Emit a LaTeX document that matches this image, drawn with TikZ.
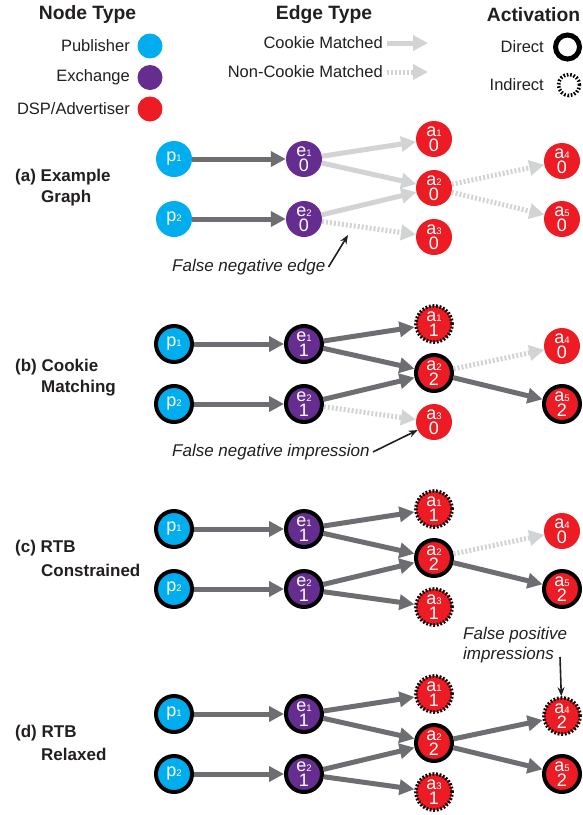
\documentclass[tikz,border=0pt]{standalone}
\usepackage{fontspec}
\setmainfont{Liberation Sans}
\usetikzlibrary{arrows.meta}
\definecolor{pub}{HTML}{00AEEF}
\definecolor{exch}{HTML}{662D91}
\definecolor{dsp}{HTML}{ED1C24}
\definecolor{dgray}{HTML}{6D6E71}
\definecolor{lgray}{HTML}{D1D3D4}
\definecolor{txt}{HTML}{231F20}
\newcommand\nsub[1]{{\fontsize{9.5}{9.5}\selectfont #1}}
\tikzset{
  nd/.style={circle, minimum size=36pt, inner sep=0pt, text=white, align=center,
    font=\fontsize{18}{15.5}\selectfont},
  pubn/.style={nd, fill=pub},
  exn/.style={nd, fill=exch},
  dspn/.style={nd, fill=dsp},
  direct/.style={draw=black, line width=4pt},
  indirect/.style={draw=black, line width=3.6pt, dash pattern=on 1.7pt off 1.8pt},
  strong/.style={draw=dgray, line width=5pt, -{Triangle[length=15pt,width=15pt]}},
  weak/.style={draw=lgray, line width=5pt, -{Triangle[length=15pt,width=15pt]}},
  weakdot/.style={weak, dash pattern=on 2pt off 2pt},
  hdr/.style={text=txt, font=\fontsize{19.3}{22}\selectfont\bfseries, inner sep=0pt},
  leg/.style={text=txt, font=\fontsize{16.5}{19}\selectfont, inner sep=0pt},
  plab/.style={text=txt, font=\fontsize{17}{20}\selectfont\bfseries, inner sep=0pt, anchor=west},
  note/.style={text=txt, font=\fontsize{17}{20}\selectfont\itshape, inner sep=3pt, align=left},
  annot/.style={draw=txt, line width=1.6pt, -{Stealth[length=9pt,width=7pt]}},
  legdot/.style={circle, inner sep=0pt, minimum size=25pt},
}
\begin{document}
\begin{tikzpicture}[x=1pt,y=1pt]
\useasboundingbox (0,0) rectangle (582,-815);
\fill[white] (0,0) rectangle (582,-815);

% ---------- legend ----------
\node[hdr] (hnode) at (87.5,-15) {Node Type};
\node[hdr] (hedge) at (324,-15) {Edge Type};
\node[hdr] (hact) at (533.5,-15) {Activation};

\node[leg, anchor=east] (lpub) at (130,-46) {Publisher};
\node[leg, anchor=east] (lexc) at (130,-77.5) {Exchange};
\node[leg, anchor=east] (ldsp) at (130,-109) {DSP/Advertiser};
\node[legdot, fill=pub] (cpub) at (150,-46) {};
\node[legdot, fill=exch] (cexc) at (150,-77.5) {};
\node[legdot, fill=dsp] (cdsp) at (150,-109) {};

\node[leg, anchor=east] (lcm) at (383,-43) {Cookie Matched};
\node[leg, anchor=east] (lncm) at (383,-72) {Non-Cookie Matched};
\coordinate (cmA) at (387,-43); \coordinate (cmB) at (428,-43);
\coordinate (ncmA) at (387,-72); \coordinate (ncmB) at (428,-72);
\draw[weak] (cmA) -- (cmB);
\draw[weakdot] (ncmA) -- (ncmB);

\node[leg, anchor=east] (ldir) at (544,-47) {Direct};
\node[leg, anchor=east] (lind) at (544,-85) {Indirect};
\node[circle, inner sep=0pt, minimum size=24pt, draw=black, line width=5pt] (cdir) at (567.5,-47) {};
\node[circle, inner sep=0pt, minimum size=21pt, draw=black, line width=3.6pt, dash pattern=on 1.6pt off 1.8pt] (cind) at (569,-85) {};

% ---------- panel labels ----------
\node[plab] (la1) at (15,-177) {(a) Example};
\node[plab] (la2) at (41,-198) {Graph};
\node[plab] (lb1) at (15,-367) {(b) Cookie};
\node[plab] (lb2) at (41,-388) {Matching};
\node[plab] (lc1) at (15,-548) {(c) RTB};
\node[plab] (lc2) at (41,-570) {Constrained};
\node[plab] (ld1) at (15,-733) {(d) RTB};
\node[plab] (ld2) at (41,-754) {Relaxed};

% ---------- panel (a) ----------
\node[pubn] (pa1) at (174,-159) {p\nsub{1}};
\node[pubn] (pa2) at (174,-219) {p\nsub{2}};
\node[exn] (ea1) at (304,-159) {e\nsub{1}\\0};
\node[exn] (ea2) at (304,-219) {e\nsub{2}\\0};
\node[dspn] (aa1) at (434,-139) {a\nsub{1}\\0};
\node[dspn] (aa2) at (434,-188) {a\nsub{2}\\0};
\node[dspn] (aa3) at (434,-237) {a\nsub{3}\\0};
\node[dspn] (aa4) at (562,-161) {a\nsub{4}\\0};
\node[dspn] (aa5) at (562,-219) {a\nsub{5}\\0};
\draw[strong] (pa1) -- (ea1);
\draw[strong] (pa2) -- (ea2);
\draw[weak] (ea1) -- (aa1);
\draw[weak] (ea1) -- (aa2);
\draw[weak] (ea2) -- (aa2);
\draw[weakdot] (ea2) -- (aa3);
\draw[weakdot] (aa2) -- (aa4);
\draw[weakdot] (aa2) -- (aa5);
\node[note, anchor=west] (fne) at (169,-267) {False negative edge};
\coordinate (fnetip) at (348,-235);
\draw[annot] (fne.east) -- (fnetip);

% ---------- panel (b) ----------
\node[pubn, direct] (pb1) at (174,-344) {p\nsub{1}};
\node[pubn, direct] (pb2) at (174,-404) {p\nsub{2}};
\node[exn, direct] (eb1) at (304,-344) {e\nsub{1}\\1};
\node[exn, direct] (eb2) at (304,-404) {e\nsub{2}\\1};
\node[dspn, indirect] (ab1) at (434,-324) {a\nsub{1}\\1};
\node[dspn, direct] (ab2) at (434,-373) {a\nsub{2}\\2};
\node[dspn] (ab3) at (434,-422) {a\nsub{3}\\0};
\node[dspn] (ab4) at (562,-346) {a\nsub{4}\\0};
\node[dspn, direct] (ab5) at (562,-404) {a\nsub{5}\\2};
\draw[strong] (pb1) -- (eb1);
\draw[strong] (pb2) -- (eb2);
\draw[strong] (eb1) -- (ab1);
\draw[strong] (eb1) -- (ab2);
\draw[strong] (eb2) -- (ab2);
\draw[weakdot] (eb2) -- (ab3);
\draw[weakdot] (ab2) -- (ab4);
\draw[strong] (ab2) -- (ab5);
\node[note, anchor=west] (fni) at (169,-452) {False negative impression};
\draw[annot] (fni.east) -- (ab3);

% ---------- panel (c) ----------
\node[pubn, direct] (pc1) at (174,-529) {p\nsub{1}};
\node[pubn, direct] (pc2) at (174,-589) {p\nsub{2}};
\node[exn, direct] (ec1) at (304,-529) {e\nsub{1}\\1};
\node[exn, direct] (ec2) at (304,-589) {e\nsub{2}\\1};
\node[dspn, indirect] (ac1) at (434,-509) {a\nsub{1}\\1};
\node[dspn, direct] (ac2) at (434,-558) {a\nsub{2}\\2};
\node[dspn, indirect] (ac3) at (434,-607) {a\nsub{3}\\1};
\node[dspn] (ac4) at (562,-531) {a\nsub{4}\\0};
\node[dspn, direct] (ac5) at (562,-589) {a\nsub{5}\\2};
\draw[strong] (pc1) -- (ec1);
\draw[strong] (pc2) -- (ec2);
\draw[strong] (ec1) -- (ac1);
\draw[strong] (ec1) -- (ac2);
\draw[strong] (ec2) -- (ac2);
\draw[strong] (ec2) -- (ac3);
\draw[weakdot] (ac2) -- (ac4);
\draw[strong] (ac2) -- (ac5);

% ---------- panel (d) ----------
\node[pubn, direct] (pd1) at (174,-714) {p\nsub{1}};
\node[pubn, direct] (pd2) at (174,-774) {p\nsub{2}};
\node[exn, direct] (ed1) at (304,-714) {e\nsub{1}\\1};
\node[exn, direct] (ed2) at (304,-774) {e\nsub{2}\\1};
\node[dspn, indirect] (ad1) at (434,-694) {a\nsub{1}\\1};
\node[dspn, direct] (ad2) at (434,-743) {a\nsub{2}\\2};
\node[dspn, indirect] (ad3) at (434,-792) {a\nsub{3}\\1};
\node[dspn, indirect] (ad4) at (562,-716) {a\nsub{4}\\2};
\node[dspn, direct] (ad5) at (562,-774) {a\nsub{5}\\2};
\draw[strong] (pd1) -- (ed1);
\draw[strong] (pd2) -- (ed2);
\draw[strong] (ed1) -- (ad1);
\draw[strong] (ed1) -- (ad2);
\draw[strong] (ed2) -- (ad2);
\draw[strong] (ed2) -- (ad3);
\draw[strong] (ad2) -- (ad4);
\draw[strong] (ad2) -- (ad5);
\node[note, anchor=north west] (fpi) at (460,-624) {False positive\\impressions};
\coordinate (fpistart) at (560,-657);
\draw[annot] (fpistart) -- (ad4);
\end{tikzpicture}
\end{document}
